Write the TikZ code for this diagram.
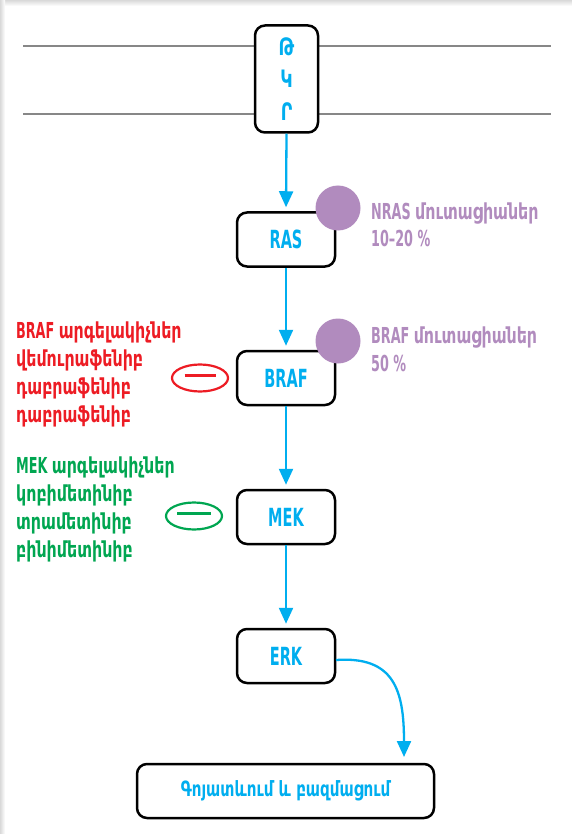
\documentclass[tikz,border=0pt]{standalone}
\usepackage{fontspec}
\usetikzlibrary{arrows.meta,shapes.geometric}
\newfontfamily\latf[FakeStretch=0.58]{DejaVu Sans Bold}
\newfontfamily\armf[FakeStretch=0.72]{DejaVu Sans Bold}
\definecolor{cyanb}{HTML}{00AEEF}
\definecolor{purp}{HTML}{B18BBE}
\definecolor{redc}{HTML}{ED1C24}
\definecolor{grnc}{HTML}{00A651}
\definecolor{memb}{HTML}{878787}
\tikzset{
  box/.style={draw=black, line width=2.5pt, rounded corners=10pt, fill=white,
    minimum width=98pt, minimum height=54pt, inner sep=0pt, text=cyanb,
    font=\fontsize{25}{28}\selectfont},
  flow/.style={draw=cyanb, line width=2.3pt, -{Triangle[width=14pt,length=16pt]}, shorten >=4pt},
  lab/.style={anchor=base west, inner sep=0pt, font=\fontsize{22}{27}\selectfont},
  mut/.style={circle, fill=purp, minimum size=45pt, inner sep=0pt},
  inhib/.style={ellipse, line width=2.2pt, minimum width=56pt, minimum height=27pt, inner sep=0pt},
  membline/.style={draw=memb, line width=2.4pt},
}
\begin{document}
\begin{tikzpicture}[x=1pt,y=-1pt]
\useasboundingbox (0,0) rectangle (572,834);
\fill[white] (0,0) rectangle (572,834);
\shade[top color=gray!30, bottom color=white] (0,0) rectangle (572,6);
\shade[left color=gray!30, right color=white] (0,0) rectangle (5,834);

% membrane
\coordinate (m1l) at (23,46);
\coordinate (m1r) at (551,46);
\coordinate (m2l) at (23,114);
\coordinate (m2r) at (551,114);
\draw[membline] (m1l) -- (m1r);
\draw[membline] (m2l) -- (m2r);

% receptor
\node[box, minimum width=63pt, minimum height=107pt, align=center,
  font=\fontsize{24}{32.5}\selectfont\armf] (tkr) at (286.5,79) {Թ\\Կ\\Ր};

\node[box] (ras) at (286,239.5) {\latf RAS};
\node[box] (braf) at (286,378) {\latf BRAF};
\node[box] (mek) at (286,517) {\latf MEK};
\node[box] (erk) at (286,656) {\latf ERK};
\node[box, minimum width=297pt, minimum height=54pt, font=\fontsize{21}{24}\selectfont\armf] (out) at (285.5,791) {Գոյատևում և բազմացում};

\draw[flow] (tkr.south) -- (ras.north);
\draw[flow] (ras.south) -- (braf.north);
\draw[flow] (braf.south) -- (mek.north);
\draw[flow] (mek.south) -- (erk.north);
\coordinate (erkout) at (336,660);
\coordinate (outin) at (404,763);
\draw[flow, shorten >=6pt] (erkout) .. controls (394,656) and (404,690) .. (outin);

% mutation markers
\node[mut] (c1) at (338,208) {};
\node[mut] (c2) at (338,341) {};
\node[lab, text=purp] (n1) at (371,219) {\latf NRAS \armf մուտացիաներ};
\node[lab, text=purp] (n2) at (371,246) {\latf 10–20 \%};
\node[lab, text=purp] (b1) at (371,343) {\latf BRAF \armf մուտացիաներ};
\node[lab, text=purp] (b2) at (371,371) {\latf 50 \%};

% inhibitors
\node[inhib, draw=redc] (ri) at (200,378) {\color{redc}\rule[5pt]{31pt}{2.4pt}};
\node[inhib, draw=grnc] (gi) at (194,516) {\color{grnc}\rule[5pt]{34pt}{2.4pt}};

\node[lab, text=redc] (r1) at (16,338) {\latf BRAF \armf արգելակիչներ};
\node[lab, text=redc] (r2) at (16,366) {\armf վեմուրաֆենիբ};
\node[lab, text=redc] (r3) at (16,394) {\armf դաբրաֆենիբ};
\node[lab, text=redc] (r4) at (16,422) {\armf դաբրաֆենիբ};

\node[lab, text=grnc] (g1) at (16,473) {\latf MEK \armf արգելակիչներ};
\node[lab, text=grnc] (g2) at (16,501) {\armf կոբիմետինիբ};
\node[lab, text=grnc] (g3) at (16,529) {\armf տրամետինիբ};
\node[lab, text=grnc] (g4) at (16,557) {\armf բինիմետինիբ};
\end{tikzpicture}
\end{document}
